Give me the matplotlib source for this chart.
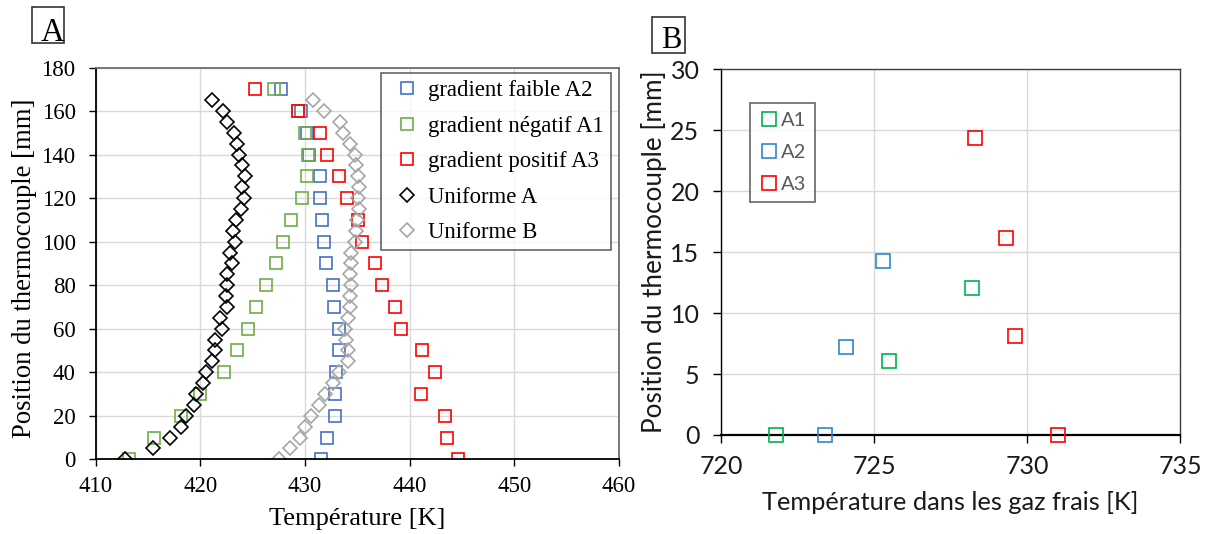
import matplotlib
matplotlib.use("Agg")
import matplotlib.pyplot as plt
from matplotlib.lines import Line2D
from matplotlib.legend_handler import HandlerLine2D
from matplotlib.patches import Rectangle
import numpy as np

# ---------------- Data (panel A) ----------------
pos_grad = list(range(0, 171, 10))          # mm
pos_unif = list(range(0, 166, 5))           # mm

T_A2 = [431.5, 432.1, 432.9, 432.9, 433.0, 433.3, 433.3, 432.8, 432.7, 432.0,
        431.8, 431.6, 431.4, 431.4, 430.4, 430.2, 429.6, 427.7]
T_A1 = [413.2, 415.6, 418.2, 420.0, 422.25, 423.55, 424.55, 425.35, 426.25, 427.25,
        427.95, 428.65, 429.75, 430.2, 430.3, 430.0, 429.35, 427.05]
T_A3 = [444.6, 443.6, 443.4, 441.05, 442.4, 441.15, 439.15, 438.65, 437.35, 436.65,
        435.5, 435.1, 434.0, 433.3, 432.1, 431.4, 429.3, 425.25]
T_UA = [412.8, 415.5, 417.1, 418.2, 418.6, 419.4, 419.6, 420.3, 420.6, 421.1,
        421.4, 421.4, 422.1, 421.9, 422.6, 422.5, 422.6, 422.6, 423.0, 422.8,
        423.3, 423.1, 423.4, 423.9, 424.2, 424.0, 424.3, 424.0, 423.7, 423.5,
        423.2, 422.6, 422.2, 421.1]
T_UB = [427.5, 428.6, 429.5, 430.0, 430.6, 431.3, 431.9, 432.7, 433.3, 434.1,
        434.1, 433.9, 433.8, 434.1, 434.3, 434.3, 434.4, 434.3, 434.4, 434.4,
        434.8, 434.9, 435.0, 435.2, 435.1, 435.2, 435.1, 434.9, 434.8, 434.3,
        433.6, 433.4, 431.8, 430.8]

labels_A = ["gradient faible A2", "gradient négatif A1", "gradient positif A3",
            "Uniforme A", "Uniforme B"]

# ---------------- Data (panel B) ----------------
B_A1_T = [721.8, 725.5, 728.2]
B_A1_y = [0.0, 6.1, 12.1]
B_A2_T = [723.4, 724.1, 725.3]
B_A2_y = [0.0, 7.2, 14.3]
B_A3_T = [731.0, 729.6, 729.3, 728.3]
B_A3_y = [0.0, 8.1, 16.2, 24.4]
labels_B = ["A1", "A2", "A3"]

W, H = 1207, 534
fig = plt.figure(figsize=(W / 100, H / 100), dpi=100)

serif = ["Liberation Serif", "DejaVu Serif"]
sans = ["Lato", "DejaVu Sans"]


class OffsetMarkerHandler(HandlerLine2D):
    """Line2D legend handler placing the marker at a fraction of the handle width."""
    def __init__(self, frac, **kw):
        super().__init__(**kw)
        self.frac = frac

    def get_xdata(self, legend, xdescent, ydescent, width, height, fontsize):
        xdata, _ = super().get_xdata(legend, xdescent, ydescent, width, height, fontsize)
        return xdata, [-xdescent + self.frac * width]


# ================= Panel A =================
axA_l, axA_r, axA_t, axA_b = 95.5, 619.0, 67.5, 459.3
axA = fig.add_axes([axA_l / W, 1 - axA_b / H, (axA_r - axA_l) / W, (axA_b - axA_t) / H])
ms_sq = 9.2
mew = 1.2
axA.plot(T_A2, pos_grad, ls="none", marker="s", ms=ms_sq, mfc="none", mec="#4472C4", mew=mew, label=labels_A[0])
axA.plot(T_A1, pos_grad, ls="none", marker="s", ms=ms_sq, mfc="none", mec="#70AD47", mew=mew, label=labels_A[1])
axA.plot(T_A3, pos_grad, ls="none", marker="s", ms=ms_sq, mfc="none", mec="#FF0000", mew=mew, label=labels_A[2])
axA.plot(T_UA, pos_unif, ls="none", marker="D", ms=6.8, mfc="none", mec="#000000", mew=mew, label=labels_A[3])
axA.plot(T_UB, pos_unif, ls="none", marker="D", ms=6.8, mfc="none", mec="#A6A6A6", mew=mew, label=labels_A[4])

axA.set_xlim(410, 460)
axA.set_ylim(0, 180)
axA.set_xticks(np.arange(410, 461, 10))
axA.set_yticks(np.arange(0, 181, 20))
axA.grid(True, color="#D9D9D9", lw=1.0)
axA.set_axisbelow(True)
for s in ["left", "bottom"]:
    axA.spines[s].set_color("black")
    axA.spines[s].set_linewidth(1.3)
for s in ["top", "right"]:
    axA.spines[s].set_color("#6E6E6E")
    axA.spines[s].set_linewidth(1.3)
axA.tick_params(direction="out", length=4.8, width=1.0, colors="black", labelsize=16.5)
axA.tick_params(axis="y", pad=9.5)
axA.tick_params(axis="x", pad=7.5)
for lab in axA.get_xticklabels() + axA.get_yticklabels():
    lab.set_fontfamily(serif)
axA.set_xlabel("Température [K]", fontsize=19, family=serif)
axA.xaxis.set_label_coords(0.5, (axA_b - 508) / (axA_b - axA_t))
axA.set_ylabel("Position du thermocouple [mm]", fontsize=19.2, family=serif)
axA.yaxis.set_label_coords((37 - axA_l) / (axA_r - axA_l), (axA_b - 268.5) / (axA_b - axA_t))

legA = axA.legend(loc="upper right",
                  bbox_to_anchor=((610.7 - axA_l) / (axA_r - axA_l), (axA_b - 73.3) / (axA_b - axA_t)),
                  prop={"family": serif, "size": 16.4},
                  frameon=True, fancybox=False, edgecolor="#404040", handlelength=1.65,
                  handletextpad=0.1, labelspacing=0.64, borderpad=0.3, borderaxespad=0.0,
                  handler_map={Line2D: OffsetMarkerHandler(0.76)})
legA.get_frame().set_linewidth(1.2)

fig.text(52.5 / W, 1 - 32.5 / H, "A", family=serif, fontsize=23.5, ha="center", va="center")
fig.patches.append(Rectangle((32.3 / W, 1 - 43.3 / H), 32 / W, 36 / H, transform=fig.transFigure,
                             fill=False, ec="#333333", lw=1.2))

# ================= Panel B =================
axB_l, axB_r, axB_t, axB_b = 721.0, 1180.0, 69.3, 435.0
axB = fig.add_axes([axB_l / W, 1 - axB_b / H, (axB_r - axB_l) / W, (axB_b - axB_t) / H])
msB = 9.8
axB.plot(B_A1_T, B_A1_y, ls="none", marker="s", ms=msB, mfc="none", mec="#00B050", mew=1.2, label=labels_B[0], clip_on=False, zorder=4)
axB.plot(B_A2_T, B_A2_y, ls="none", marker="s", ms=msB, mfc="none", mec="#2E86D0", mew=1.2, label=labels_B[1], clip_on=False, zorder=4)
axB.plot(B_A3_T, B_A3_y, ls="none", marker="s", ms=msB, mfc="none", mec="#FF0000", mew=1.2, label=labels_B[2], clip_on=False, zorder=4)
axB.set_xlim(720, 735)
axB.set_ylim(0, 30)
axB.set_xticks(np.arange(720, 736, 5))
axB.set_yticks(np.arange(0, 31, 5))
axB.grid(True, color="#D9D9D9", lw=1.0)
axB.set_axisbelow(True)
for s in ["left", "bottom"]:
    axB.spines[s].set_color("black")
axB.spines["left"].set_linewidth(1.0)
axB.spines["bottom"].set_linewidth(1.6)
for s in ["top", "right"]:
    axB.spines[s].set_color("#404040")
    axB.spines[s].set_linewidth(1.0)
axB.tick_params(direction="out", length=5.5, width=1.0, colors="black", labelsize=18)
axB.tick_params(axis="y", pad=10)
axB.tick_params(axis="x", pad=9)
for lab in axB.get_xticklabels() + axB.get_yticklabels():
    lab.set_fontfamily(sans)
    lab.set_color("#1A1A1A")
axB.set_xlabel("Température dans les gaz frais [K]", fontsize=18.3, family=sans, color="#1A1A1A")
axB.xaxis.set_label_coords(0.5, (axB_b - 491) / (axB_b - axB_t))
axB.set_ylabel("Position du thermocouple [mm]", fontsize=18.8, family=sans, color="#1A1A1A")
axB.yaxis.set_label_coords((666.7 - axB_l) / (axB_r - axB_l), 0.5)

legB = axB.legend(loc="upper left",
                  bbox_to_anchor=((749.6 - axB_l) / (axB_r - axB_l), (axB_b - 103.3) / (axB_b - axB_t)),
                  prop={"family": sans, "size": 14.5},
                  frameon=True, fancybox=False, edgecolor="#404040", handlelength=1.05,
                  handletextpad=0.1, labelspacing=0.75, borderpad=0.42, borderaxespad=0.0)
legB.get_frame().set_linewidth(1.2)
for t in legB.get_texts():
    t.set_color("#595959")

fig.text(671.2 / W, 1 - 41 / H, "B", family=serif, fontsize=22, ha="center", va="center")
fig.patches.append(Rectangle((652.3 / W, 1 - 52.7 / H), 32.7 / W, 36 / H, transform=fig.transFigure,
                             fill=False, ec="#333333", lw=1.2))

fig.savefig("out.png", dpi=100)
